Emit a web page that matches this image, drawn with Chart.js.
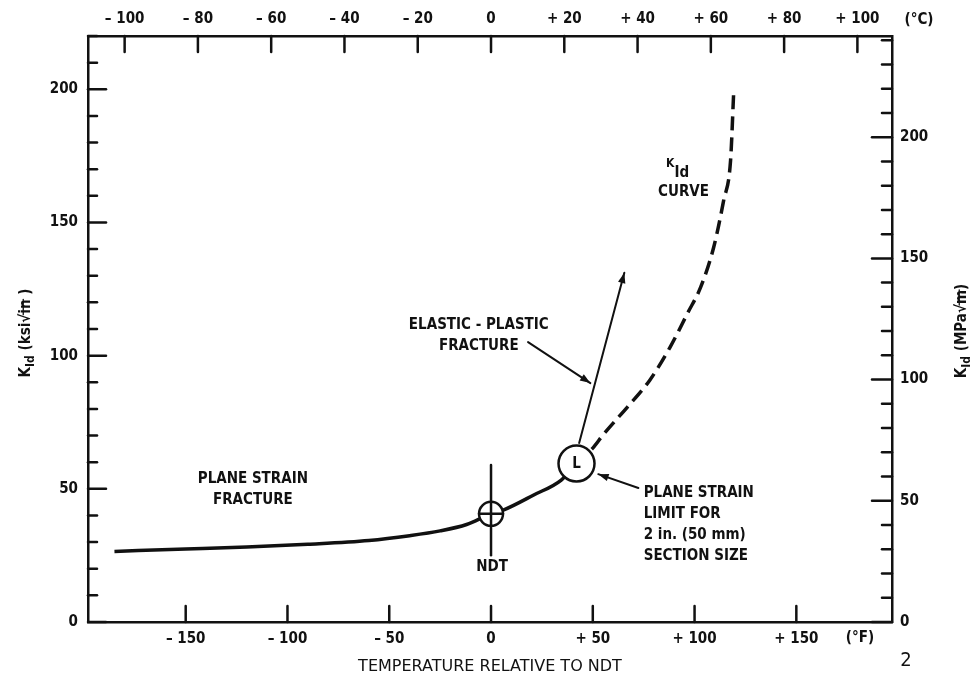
<!DOCTYPE html>
<html>
<head>
<meta charset="utf-8">
<script src="https://cdn.jsdelivr.net/npm/chart.js@4.4.0/dist/chart.umd.min.js"></script>
<style>
  html, body { margin: 0; padding: 0; background: #fff; }
  #wrap { width: 973px; height: 682px; }
</style>
</head>
<body>
<div id="wrap"><canvas id="kid"></canvas></div>
<script>
const FONT = "'DejaVu Sans Condensed', 'DejaVu Sans', sans-serif";

// K_Id curve: temperature relative to NDT (°F) vs K_Id (ksi sqrt(in))
const planeStrainTemp = [-185, -150, -120, -90, -60, -40, -25, -12, 0, 6, 21, 34.5, 42];
const planeStrainKid  = [26.5, 27.4, 28.2, 29.2, 30.6, 32.4, 34.2, 36.6, 40.6, 42.0, 47.7, 53.3, 59.5];
const elasticTemp = [42, 50, 55, 67, 78, 88, 96.6, 103, 109.4, 114.3, 117.7, 119.2];
const elasticKid  = [59.5, 65.3, 70.2, 80.7, 90.8, 103.2, 116, 125.7, 140.7, 158.3, 173.4, 198.5];

// axis ranges
const rangeF = [-198, 197];
const rangeC = rangeF.map(f => f * 5 / 9);
const rangeKsi = [0, 220];
const rangeMpa = rangeKsi.map(k => k * 1.0988);

// markers, arrows and notes (data coordinates)
const ndtPoint = [0, 40.6];
const limitPoint = [42, 59.5];
const ndtBar = [58.9, 25.1];
const arrowLines = [
    [[43.3, 67.2], [65.5, 131.1]],
    [[18.2, 105.1], [48.8, 89.7]],
    [[72.4, 50.3], [52.7, 55.5]]
];
const notes = [
    { at: [-117, 53.7], lines: ['PLANE STRAIN', 'FRACTURE'], align: 'center' },
    { at: [-6, 111.4], lines: ['ELASTIC - PLASTIC', 'FRACTURE'], align: 'center' },
    { at: [75, 48.4], lines: ['PLANE STRAIN', 'LIMIT FOR', '2 in. (50 mm)', 'SECTION SIZE'], align: 'left' },
    { at: [0.5, 20.6], lines: ['NDT'], align: 'center' },
    { at: [94.6, 161.4], lines: ['CURVE'], align: 'center' }
];
const curveLabelAt = [86, 171];

function toPoints(xs, ys) {
    return xs.map((x, i) => ({ x: x, y: ys[i] }))
}

function signed(v) {
    if (v < 0) return '\u2013 ' + Math.abs(v)
    if (v > 0) return '+ ' + v
    return '0'
}

// text with optional subscript / radical overline pieces
function rich(ctx, parts, x, y, align) {
    let w = 0
    parts.forEach(p => {
        ctx.font = 'bold ' + p.size + 'px ' + FONT
        p.w = ctx.measureText(p.t).width
        w += p.w
    })
    let cx = align === 'center' ? x - w / 2 : x
    ctx.textAlign = 'left'
    parts.forEach(p => {
        ctx.font = 'bold ' + p.size + 'px ' + FONT
        ctx.fillText(p.t, cx, y + (p.dy || 0))
        if (p.over) {
            ctx.lineWidth = 1.3
            ctx.beginPath()
            ctx.moveTo(cx - 1, y - p.size * 0.45)
            ctx.lineTo(cx + p.w, y - p.size * 0.45)
            ctx.stroke()
        }
        cx += p.w
    })
}

function arrowHead(ctx, x0, y0, x1, y1, size) {
    const a = Math.atan2(y1 - y0, x1 - x0)
    ctx.beginPath()
    ctx.moveTo(x1, y1)
    ctx.lineTo(x1 - size * Math.cos(a - 0.35), y1 - size * Math.sin(a - 0.35))
    ctx.lineTo(x1 - size * Math.cos(a + 0.35), y1 - size * Math.sin(a + 0.35))
    ctx.closePath()
    ctx.fill()
}

const overlay = {
    id: 'overlay',
    afterDraw(chart) {
        const { ctx, chartArea: a, scales } = chart
        const px = v => scales.x.getPixelForValue(v)
        const py = v => scales.y.getPixelForValue(v)
        ctx.save()
        ctx.strokeStyle = '#111'
        ctx.fillStyle = '#111'
        ctx.lineCap = 'round'

        // inward tick marks
        ctx.lineWidth = 2.5
        scales.x.ticks.forEach(t => {
            const p = scales.x.getPixelForValue(t.value)
            ctx.beginPath(); ctx.moveTo(p, a.bottom); ctx.lineTo(p, a.bottom - 16); ctx.stroke()
        })
        scales.x2.ticks.forEach(t => {
            const p = scales.x2.getPixelForValue(t.value)
            ctx.beginPath(); ctx.moveTo(p, a.top); ctx.lineTo(p, a.top + 16); ctx.stroke()
        })
        scales.y.ticks.forEach(t => {
            const p = scales.y.getPixelForValue(t.value)
            const len = t.value % 50 === 0 ? 18 : 9
            ctx.beginPath(); ctx.moveTo(a.left, p); ctx.lineTo(a.left + len, p); ctx.stroke()
        })
        scales.y2.ticks.forEach(t => {
            const p = scales.y2.getPixelForValue(t.value)
            const len = t.value % 50 === 0 ? 20 : 10
            ctx.beginPath(); ctx.moveTo(a.right, p); ctx.lineTo(a.right - len, p); ctx.stroke()
        })

        // NDT marker
        const nx = px(ndtPoint[0]), ny = py(ndtPoint[1])
        ctx.lineWidth = 2.5
        ctx.beginPath(); ctx.moveTo(nx, py(ndtBar[0])); ctx.lineTo(nx, py(ndtBar[1])); ctx.stroke()
        ctx.beginPath(); ctx.arc(nx, ny, 12, 0, Math.PI * 2)
        ctx.fillStyle = '#fff'; ctx.fill(); ctx.fillStyle = '#111'; ctx.stroke()
        ctx.beginPath(); ctx.moveTo(nx - 12, ny); ctx.lineTo(nx + 12, ny)
        ctx.moveTo(nx, ny - 12); ctx.lineTo(nx, ny + 12); ctx.stroke()

        // arrows
        ctx.lineWidth = 2
        arrowLines.forEach(l => {
            const x0 = px(l[0][0]), y0 = py(l[0][1]), x1 = px(l[1][0]), y1 = py(l[1][1])
            ctx.beginPath(); ctx.moveTo(x0, y0); ctx.lineTo(x1, y1); ctx.stroke()
            arrowHead(ctx, x0, y0, x1, y1, 11)
        })

        // plane strain limit marker
        const lx = px(limitPoint[0]), ly = py(limitPoint[1])
        ctx.lineWidth = 2.5
        ctx.beginPath(); ctx.arc(lx, ly, 18, 0, Math.PI * 2)
        ctx.fillStyle = '#fff'; ctx.fill(); ctx.fillStyle = '#111'; ctx.stroke()
        ctx.font = 'bold 15px ' + FONT
        ctx.textAlign = 'center'; ctx.textBaseline = 'middle'
        ctx.fillText('L', lx, ly + 1)

        // notes
        ctx.font = 'bold 15px ' + FONT
        notes.forEach(n => {
            ctx.textAlign = n.align
            n.lines.forEach((s, i) => ctx.fillText(s, px(n.at[0]), py(n.at[1]) + i * 21))
        })
        ctx.textBaseline = 'alphabetic'
        rich(ctx, [{ t: 'K', size: 12 }, { t: 'Id', size: 15, dy: 10 }],
            px(curveLabelAt[0]), py(curveLabelAt[1]), 'left')

        // axis titles
        ctx.save()
        ctx.translate(30, 333); ctx.rotate(-Math.PI / 2)
        rich(ctx, [{ t: 'K', size: 15 }, { t: 'Id', size: 12, dy: 4 }, { t: ' (ksi\u221A', size: 15 },
            { t: 'in', size: 15, over: true }, { t: ' )', size: 15 }], 0, 0, 'center')
        ctx.restore()
        ctx.save()
        ctx.translate(966, 331); ctx.rotate(-Math.PI / 2)
        rich(ctx, [{ t: 'K', size: 15 }, { t: 'Id', size: 12, dy: 4 }, { t: ' (MPa\u221A', size: 15 },
            { t: 'm', size: 15, over: true }, { t: ')', size: 15 }], 0, 0, 'center')
        ctx.restore()

        ctx.textBaseline = 'middle'; ctx.textAlign = 'center'
        ctx.font = "16px 'DejaVu Sans', sans-serif"
        ctx.fillText('TEMPERATURE RELATIVE TO NDT', (a.left + a.right) / 2, 667)
        ctx.font = 'bold 15px ' + FONT
        ctx.fillText('(\u00B0F)', a.right - 32, 638)
        ctx.fillText('(\u00B0C)', a.right + 27, 20)
        ctx.font = '20px ' + FONT
        ctx.fillText('2', 906, 661)
        ctx.restore()
    }
}

const tickFont = { family: FONT, size: 15, weight: 'bold' }
const border = { display: true, color: '#111', width: 2.5 }
const noGrid = { display: false, drawTicks: false }

new Chart(document.getElementById('kid'), {
    type: 'line',
    data: {
        datasets: [
            {
                label: 'Plane strain',
                data: toPoints(planeStrainTemp, planeStrainKid),
                borderColor: '#111',
                borderWidth: 3.5,
                pointRadius: 0,
                cubicInterpolationMode: 'monotone'
            },
            {
                label: 'K_Id curve',
                data: toPoints(elasticTemp, elasticKid),
                borderColor: '#111',
                borderWidth: 3.5,
                borderDash: [14, 7],
                pointRadius: 0,
                cubicInterpolationMode: 'monotone'
            }
        ]
    },
    options: {
        responsive: true,
        maintainAspectRatio: false,
        animation: false,
        layout: { padding: 0 },
        plugins: { legend: { display: false }, tooltip: { enabled: false } },
        scales: {
            x: {
                type: 'linear', position: 'bottom', min: rangeF[0], max: rangeF[1],
                grid: noGrid, border: border,
                ticks: { stepSize: 50, includeBounds: false, autoSkip: false, maxRotation: 0,
                         padding: 8, color: '#111', font: tickFont, callback: v => signed(v) },
                afterFit: s => { s.height = 60 }
            },
            x2: {
                type: 'linear', position: 'top', min: rangeC[0], max: rangeC[1],
                grid: noGrid, border: border,
                ticks: { stepSize: 20, includeBounds: false, autoSkip: false, maxRotation: 0,
                         padding: 8, color: '#111', font: tickFont, callback: v => signed(v) },
                afterFit: s => { s.height = 36 }
            },
            y: {
                type: 'linear', position: 'left', min: rangeKsi[0], max: rangeKsi[1],
                grid: noGrid, border: border,
                ticks: { stepSize: 10, autoSkip: false, padding: 10, color: '#111', font: tickFont,
                         callback: v => (v % 50 === 0 && v <= 200) ? String(v) : '' },
                afterFit: s => { s.width = 88 }
            },
            y2: {
                type: 'linear', position: 'right', min: rangeMpa[0], max: rangeMpa[1],
                grid: noGrid, border: border,
                ticks: { stepSize: 10, includeBounds: false, autoSkip: false, padding: 8, color: '#111',
                         font: tickFont, callback: v => (v % 50 === 0 && v <= 200) ? String(v) : '' },
                afterFit: s => { s.width = 81 }
            }
        }
    },
    plugins: [overlay]
})
</script>
</body>
</html>
